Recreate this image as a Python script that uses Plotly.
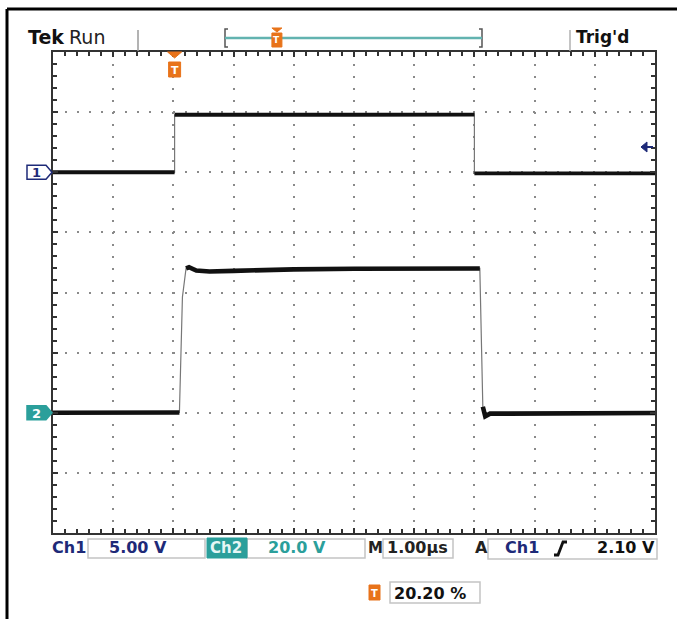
import plotly.graph_objects as go

# ---------------- data ----------------
ch1_volts_per_div = 5.0
ch2_volts_per_div = 20.0
ch1_offset_div = 2.0
ch2_offset_div = -2.0
trigger_level_v = 2.10
trigger_pos_pct = 20.20

# time in microseconds from left edge of screen (1.00 us/div)
ch1_t = [0.0, 2.02, 2.02, 3.50, 5.00, 7.00, 7.00, 8.50, 10.0]
ch1_v = [0.0, 0.0, 4.78, 4.76, 4.78, 4.80, -0.10, -0.08, -0.10]

ch2_t = [0.0, 2.10, 2.15, 2.21, 2.26, 2.38, 2.60, 3.00, 3.50, 4.00, 5.00, 6.00, 7.09, 7.14, 7.18, 7.26, 10.0]
ch2_v = [0.0, 0.1, 38.5, 48.0, 48.4, 47.3, 47.0, 47.2, 47.5, 47.7, 47.9, 48.0, 48.0, 2.0, -1.2, -0.3, -0.1]

readouts = {
    "ch1_label": "Ch1", "ch1_scale": "5.00 V",
    "ch2_label": "Ch2", "ch2_scale": "20.0 V",
    "m_label": "M", "timebase": "1.00µs",
    "a_label": "A", "trig_src": "Ch1", "trig_level": "2.10 V",
    "trig_pos": "20.20 %",
}

# ---------------- geometry ----------------
W, H = 677, 619
L, R, T, B = 53, 655, 52, 533

NAVY = "#1e2a78"
TEAL = "#2b9f9b"
TEAL_L = "#62b3b0"
ORANGE = "#e8731a"
FONT = "DejaVu Sans"


def P(x, y):
    return (x - L) / (R - L), (B - y) / (B - T)


def ypix_div(d):
    return B - (d + 4) / 8 * (B - T)


def xpix(t):
    return L + t / 10 * (R - L)


def to_div(v, vpd, off):
    return [off + vv / vpd for vv in v]


def split_thick(t, y, thr=5.0):
    xs, ys = [t[0]], [y[0]]
    for i in range(1, len(t)):
        dt = t[i] - t[i - 1]
        dy = y[i] - y[i - 1]
        if dt == 0 or abs(dy / dt) > thr:
            xs.append(None)
            ys.append(None)
        xs.append(t[i])
        ys.append(y[i])
    return xs, ys


fig = go.Figure()

for t, v, vpd, off, w in [
    (ch1_t, ch1_v, ch1_volts_per_div, ch1_offset_div, 3.8),
    (ch2_t, ch2_v, ch2_volts_per_div, ch2_offset_div, 4.6),
]:
    yd = to_div(v, vpd, off)
    fig.add_trace(go.Scatter(x=t, y=yd, mode="lines",
                             line=dict(color="#777777", width=1.2),
                             hoverinfo="skip", showlegend=False))
    tx, ty = split_thick(t, yd)
    fig.add_trace(go.Scatter(x=tx, y=ty, mode="lines", connectgaps=False,
                             line=dict(color="#111111", width=w),
                             hoverinfo="skip", showlegend=False))

axis_common = dict(
    showgrid=True, gridcolor="#8a8a8a", gridwidth=2, griddash="2px,10px",
    zeroline=False, showline=True, linecolor="#333333", linewidth=2,
    mirror="allticks", ticks="inside", ticklen=5, tickcolor="#333333",
    tickwidth=1.5, showticklabels=False, fixedrange=True, dtick=1, tick0=0,
    minor=dict(dtick=0.2, ticks="inside", ticklen=4, tickcolor="#333333",
               tickwidth=1.5, showgrid=False),
)

shapes = []
ann = []


def line(x0, y0, x1, y1, color, width):
    a0, b0 = P(x0, y0)
    a1, b1 = P(x1, y1)
    shapes.append(dict(type="line", xref="paper", yref="paper", x0=a0, y0=b0,
                       x1=a1, y1=b1, line=dict(color=color, width=width)))


def rect(x0, y0, x1, y1, fill="rgba(0,0,0,0)", lc="#c4c4c4", lw=1.5):
    a0, b0 = P(x0, y0)
    a1, b1 = P(x1, y1)
    shapes.append(dict(type="rect", xref="paper", yref="paper", x0=a0, y0=b0,
                       x1=a1, y1=b1, fillcolor=fill,
                       line=dict(color=lc, width=lw)))


def path(pts, fill=None, lc="#000", lw=1.5, closed=True):
    s = ""
    for i, (x, y) in enumerate(pts):
        a, b = P(x, y)
        s += ("M" if i == 0 else "L") + f"{a:.5f},{b:.5f} "
    if closed:
        s += "Z"
    d = dict(type="path", xref="paper", yref="paper", path=s,
             line=dict(color=lc, width=lw))
    if fill:
        d["fillcolor"] = fill
    shapes.append(d)


def txt(x, y, s, color, size, bold=True, anchor="left"):
    a, b = P(x, y)
    ann.append(dict(x=a, y=b, xref="paper", yref="paper",
                    text=f"<b>{s}</b>" if bold else s, showarrow=False,
                    xanchor=anchor, yanchor="middle",
                    font=dict(family=FONT, size=size, color=color)))


def t_icon(xc, y0, y1, w=11, size=10):
    rect(xc - w / 2, y0, xc + w / 2, y1, fill=ORANGE, lc=ORANGE, lw=1)
    txt(xc, (y0 + y1) / 2 + 0.5, "T", "white", size, anchor="center")


# outer frame
line(7, 9, 7, 619, "#000000", 3)
line(7, 9, 677, 9, "#000000", 3)

# top status bar
txt(26, 37, "Tek", "#111111", 19)
txt(67, 37, "Run", "#222222", 19, bold=False)
line(138, 30, 138, 51, "#9a9a9a", 1.5)
line(570, 30, 570, 51, "#b0b0b0", 1.5)
txt(574, 37, "Trig'd", "#111111", 17)
# record-window bracket
path([(228, 29), (225, 29), (225, 47), (228, 47)], lc="#555555", lw=1.5, closed=False)
path([(479, 29), (482, 29), (482, 47), (479, 47)], lc="#555555", lw=1.5, closed=False)
line(225, 38, 482, 38, TEAL_L, 2.5)
# trigger position marker on record bar
tpx_bar = 225 + trigger_pos_pct / 100 * (482 - 225)
path([(tpx_bar - 5, 28), (tpx_bar + 5, 28), (tpx_bar, 32)], fill=ORANGE, lc=ORANGE, lw=1)
t_icon(tpx_bar, 33, 47, w=10, size=9)

# trigger position marker on the graticule
tpx = xpix(trigger_pos_pct / 10)
path([(tpx - 7, 52), (tpx + 7, 52), (tpx, 58)], fill=ORANGE, lc=ORANGE, lw=1)
t_icon(tpx, 62, 77, w=12, size=11)

# channel ground markers
y1p = ypix_div(ch1_offset_div)
path([(27, y1p - 7), (46, y1p - 7), (52, y1p), (46, y1p + 7), (27, y1p + 7)],
     fill="white", lc=NAVY, lw=1.5)
txt(36.5, y1p + 0.5, "1", NAVY, 13, anchor="center")
y2p = ypix_div(ch2_offset_div)
path([(27, y2p - 7), (46, y2p - 7), (52, y2p), (46, y2p + 7), (27, y2p + 7)],
     fill=TEAL, lc=TEAL, lw=1.5)
txt(36.5, y2p + 0.5, "2", "white", 13, anchor="center")

# trigger level arrow (right side)
ytl = ypix_div(ch1_offset_div + trigger_level_v / ch1_volts_per_div)
path([(641, ytl), (647, ytl - 5), (647, ytl + 5)], fill=NAVY, lc=NAVY, lw=1)
line(646, ytl, 653, ytl, NAVY, 2)

# bottom readouts
YR = 547.5
rect(88, 539, 205, 558)
rect(247, 539, 365, 558)
rect(383, 539, 453, 558)
rect(488, 539, 657, 559)
rect(207, 538, 247, 558, fill=TEAL, lc=TEAL, lw=1)
txt(50, YR, readouts["ch1_label"], NAVY, 16)
txt(107, YR, readouts["ch1_scale"], NAVY, 16)
txt(208, YR, readouts["ch2_label"], "#e6f6f5", 15)
txt(266, YR, readouts["ch2_scale"], TEAL, 16)
txt(366, YR, readouts["m_label"], "#222222", 15)
txt(385, YR, readouts["timebase"], "#222222", 16)
txt(473, YR, readouts["a_label"], "#222222", 16)
txt(503, YR, readouts["trig_src"], NAVY, 16)
path([(554, 555), (558, 555), (563, 542), (567, 542)], lc="#111111", lw=2.8, closed=False)
txt(595, YR, readouts["trig_level"], "#111111", 16)

# trigger position readout
rect(390, 582, 480, 603)
t_icon(374.5, 585, 600, w=11, size=10)
txt(392, 593, readouts["trig_pos"], "#111111", 16)

fig.update_layout(
    width=W, height=H,
    margin=dict(l=L, r=W - R, t=T, b=H - B, pad=0),
    paper_bgcolor="white", plot_bgcolor="white",
    xaxis=dict(range=[0, 10], **axis_common),
    yaxis=dict(range=[-4, 4], **axis_common),
    shapes=shapes, annotations=ann, showlegend=False,
)

fig.write_html("out.html", config={"displayModeBar": False},
               post_script="document.body.style.margin='0px';document.body.style.overflow='hidden';")
